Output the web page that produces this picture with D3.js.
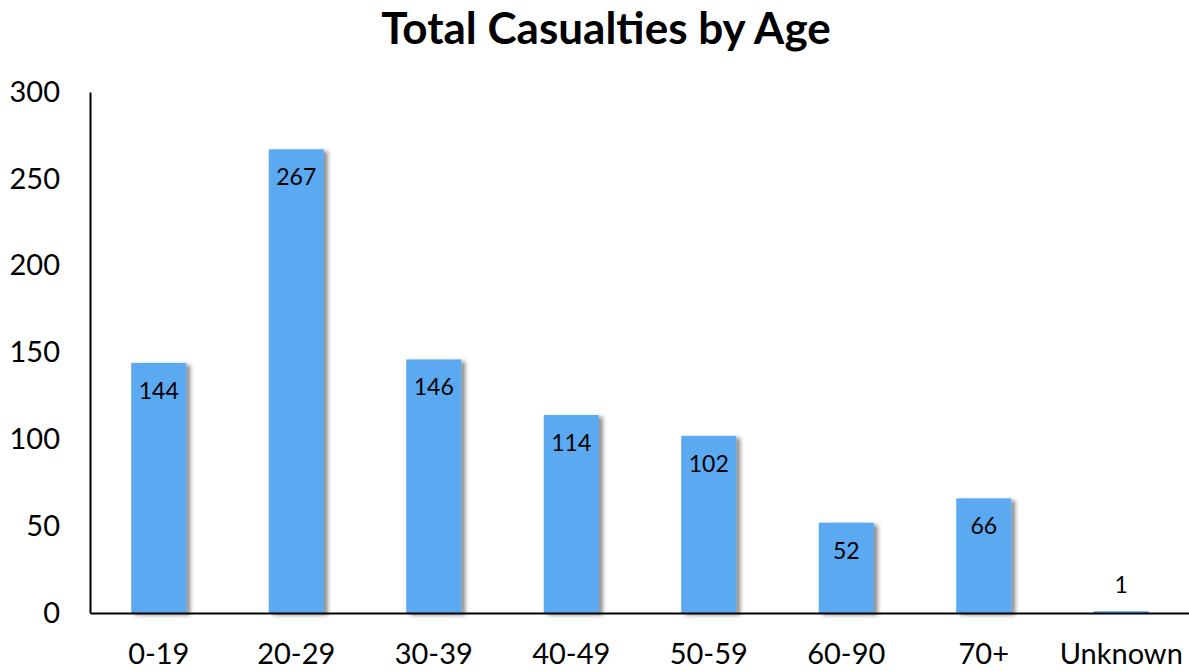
<!DOCTYPE html>
<html>
<head>
<meta charset="utf-8">
<script src="https://cdn.jsdelivr.net/npm/d3@7"></script>
<style>
  html, body { margin: 0; padding: 0; background: #ffffff; }
  svg { display: block; font-family: Lato, "Open Sans", sans-serif; }
</style>
</head>
<body>
<svg id="chart" width="1189" height="671"></svg>
<script>
// Casualty counts per age group
const categories = ["0-19", "20-29", "30-39", "40-49", "50-59", "60-90", "70+", "Unknown"];
const casualties = [144, 267, 146, 114, 102, 52, 66, 1];
const yTicks = [0, 50, 100, 150, 200, 250, 300];
const chartTitle = "Total Casualties by Age";

const svg = d3.select("#chart");
const margin = { left: 90, right: 0, top: 92, bottom: 58 };
const width = 1189, height = 671;

const x = d3.scaleBand()
  .domain(categories)
  .range([margin.left, 1190])
  .paddingInner(0.6)
  .paddingOuter(0.3);

const y = d3.scaleLinear()
  .domain([0, 300])
  .range([height - margin.bottom, margin.top]);

// soft shadow cast to the right of each bar
const defs = svg.append("defs");
const filt = defs.append("filter").attr("id", "barShadow")
  .attr("x", "-10%").attr("y", "-5%").attr("width", "130%").attr("height", "115%");
filt.append("feDropShadow")
  .attr("dx", 4).attr("dy", 2).attr("stdDeviation", 2.2)
  .attr("flood-color", "#000").attr("flood-opacity", 0.45);

// title
svg.append("text")
  .attr("x", 606).attr("y", 44)
  .attr("text-anchor", "middle")
  .attr("font-size", 44).attr("font-weight", "bold")
  .attr("fill", "#000")
  .text(chartTitle);

// bars
svg.append("g").selectAll("rect")
  .data(casualties)
  .join("rect")
  .attr("x", (d, i) => x(categories[i]))
  .attr("y", d => y(d))
  .attr("width", x.bandwidth())
  .attr("height", d => y(0) - y(d))
  .attr("fill", "#5aa9f1")
  .attr("filter", d => (y(0) - y(d)) > 4 ? "url(#barShadow)" : null);

// value labels: inside the top of the bar, or above it when the bar is too short
svg.append("g").selectAll("text")
  .data(casualties)
  .join("text")
  .attr("x", (d, i) => x(categories[i]) + x.bandwidth() / 2)
  .attr("y", d => (y(0) - y(d)) > 40 ? y(d) + 36 : y(d) - 18)
  .attr("text-anchor", "middle")
  .attr("font-size", 23)
  .attr("fill", "#000")
  .text(d => d);

// y axis
const yAxis = d3.axisLeft(y).tickValues(yTicks).tickSize(0).tickPadding(30);
const gy = svg.append("g")
  .attr("transform", `translate(${margin.left},0)`)
  .call(yAxis);
gy.select(".domain").attr("stroke", "#000").attr("stroke-width", 2);
gy.selectAll(".tick text")
  .attr("font-size", 29).attr("fill", "#000")
  .attr("font-family", "Lato, 'Open Sans', sans-serif");

// x axis
const xAxis = d3.axisBottom(x).tickSize(0).tickPadding(30);
const gx = svg.append("g")
  .attr("transform", `translate(0,${y(0)})`)
  .call(xAxis);
gx.select(".domain").attr("stroke", "#000").attr("stroke-width", 2);
gx.selectAll(".tick text")
  .attr("font-size", 29).attr("fill", "#000")
  .attr("font-family", "Lato, 'Open Sans', sans-serif");
</script>
</body>
</html>
